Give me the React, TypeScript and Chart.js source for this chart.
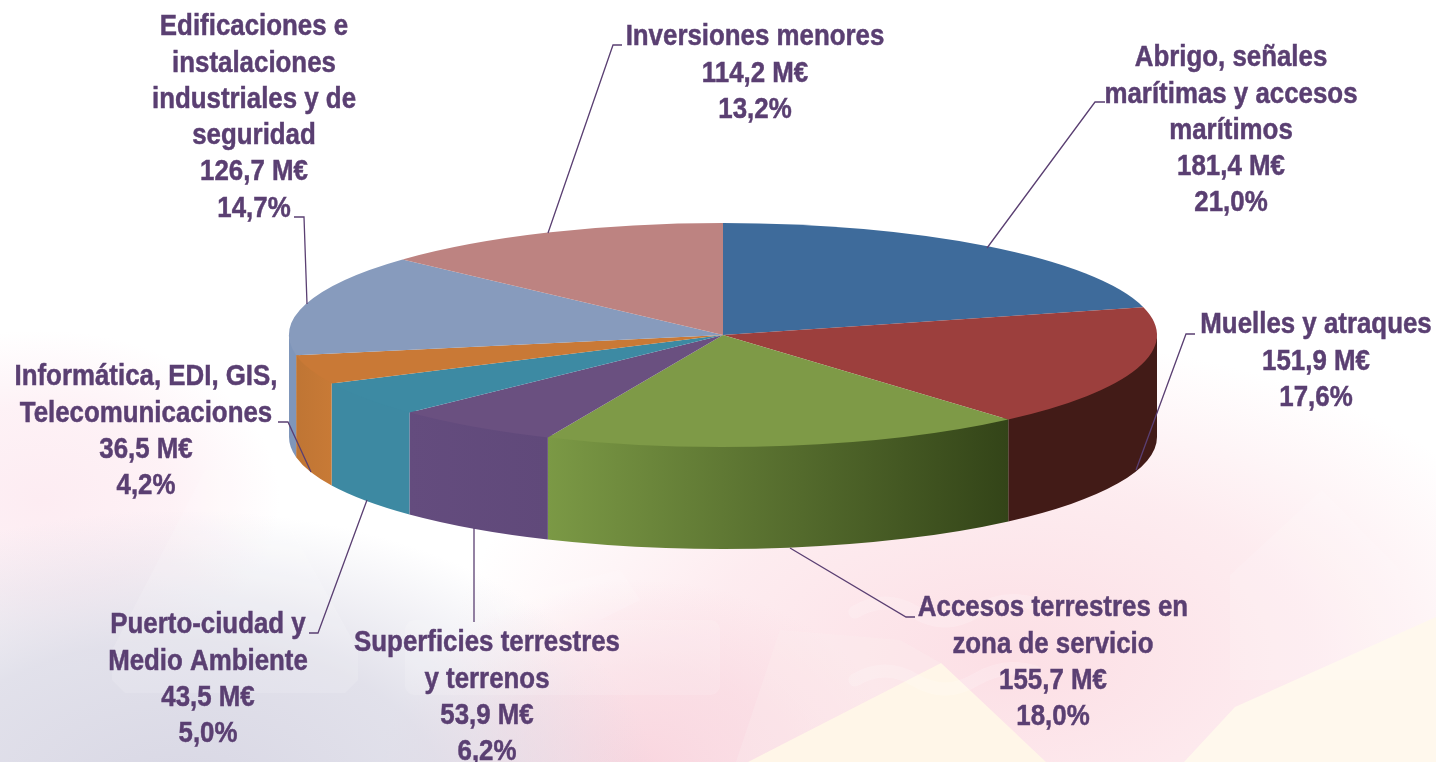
import React, { useEffect, useRef } from "react";
import { Chart, registerables } from "chart.js";

Chart.register(...registerables);

const categories = [
  ["Abrigo, señales", "marítimas y accesos", "marítimos"],
  ["Muelles y atraques"],
  ["Accesos terrestres en", "zona de servicio"],
  ["Superficies terrestres", "y terrenos"],
  ["Puerto-ciudad y", "Medio Ambiente"],
  ["Informática, EDI, GIS,", "Telecomunicaciones"],
  ["Edificaciones e", "instalaciones", "industriales y de", "seguridad"],
  ["Inversiones menores"],
];
const valuesMEuro = [181.4, 151.9, 155.7, 53.9, 43.5, 36.5, 126.7, 114.2];
const percentLabels = ["21,0%", "17,6%", "18,0%", "6,2%", "5,0%", "4,2%", "14,7%", "13,2%"];
const topColors = ["#3e6b9b", "#9c3f3d", "#7e9a47", "#6a5080", "#3d8aa3", "#c97936", "#879bbd", "#bd8381"];
const wallColors = [
  ["#30547a", "#30547a"],
  ["#421b17", "#421b17"],
  ["#7b9945", "#334418"],
  ["#644c7e", "#60497a"],
  ["#3d89a2", "#3d89a2"],
  ["#bf7534", "#c87a36"],
  ["#7f96ba", "#7f96ba"],
  ["#9c6c6a", "#9c6c6a"],
];

// Layout of the labels: centre x and centre y of the first line
const labelAnchors = [
  [1231, 58], [1316, 325], [1053, 608], [487, 643], [208, 625], [146, 377], [254, 27], [755, 37],
];
const leaderLines = [
  [[1105, 102], [1095, 102], [987, 248]],
  [[1195, 334], [1186, 334], [1136, 470]],
  [[915, 617], [906, 617], [790, 548]],
  [[474, 622], [474, 528]],
  [[309, 633], [318, 633], [367, 500]],
  [[278, 422], [288, 422], [311, 472]],
  [[294, 217], [304, 217], [307, 304]],
  [[622, 45], [613, 45], [548, 233]],
];

const WIDTH = 1436;
const HEIGHT = 762;
const RX = 434;
const RY = 112;
const DEPTH = 102;
const LINE_H = 36.3;
const INK = "#5a3f72";
const FONT = 'bold 30px "Liberation Sans", sans-serif';
const TEXT_SQUEEZE = 0.862;

const pie3d = {
  id: "pie3d",
  beforeDatasetsDraw(chart: any) {
    const ctx = chart.ctx;
    const meta = chart.getDatasetMeta(0);
    const first = meta.data[0];
    const cx = first.x;
    const cy = first.y;
    ctx.save();
    meta.data.forEach((arc: any, i: number) => {
      const norm = (a: number) => {
        let v = a % (2 * Math.PI);
        if (v < -Math.PI / 2) v += 2 * Math.PI;
        return v;
      };
      const s = norm(arc.startAngle);
      const e = s + (arc.endAngle - arc.startAngle);
      const a = Math.max(s, 0);
      const b = Math.min(e, Math.PI);
      if (b <= a) return;
      const x0 = cx + RX * Math.cos(a);
      const x1 = cx + RX * Math.cos(b);
      const g = ctx.createLinearGradient(Math.min(x0, x1), 0, Math.max(x0, x1), 0);
      g.addColorStop(0, wallColors[i][0]);
      g.addColorStop(1, wallColors[i][1]);
      ctx.fillStyle = g;
      ctx.beginPath();
      // starts a little above the rim so that no seam shows under the top face
      ctx.ellipse(cx, cy - 3, RX, RY, 0, a, b, false);
      ctx.ellipse(cx, cy + DEPTH, RX, RY, 0, b, a, true);
      ctx.closePath();
      ctx.fill();
    });
    ctx.restore();
    ctx.save();
    ctx.translate(cx, cy);
    ctx.scale(RX / RY, 1);
    ctx.translate(-cx, -cy);
  },
  afterDatasetsDraw(chart: any) {
    const ctx = chart.ctx;
    ctx.restore();
    ctx.save();
    ctx.strokeStyle = INK;
    ctx.lineWidth = 1.3;
    leaderLines.forEach((pts) => {
      ctx.beginPath();
      pts.forEach((p, i) => (i ? ctx.lineTo(p[0], p[1]) : ctx.moveTo(p[0], p[1])));
      ctx.stroke();
    });
    ctx.fillStyle = INK;
    ctx.font = FONT;
    ctx.textAlign = "center";
    ctx.textBaseline = "middle";
    ctx.lineWidth = 0.5;
    categories.forEach((cat, i) => {
      const lines = [
        ...cat,
        valuesMEuro[i].toFixed(1).replace(".", ",") + " M€",
        percentLabels[i],
      ];
      lines.forEach((t, j) => {
        ctx.save();
        ctx.translate(labelAnchors[i][0], labelAnchors[i][1] + j * LINE_H);
        ctx.scale(TEXT_SQUEEZE, 1);
        ctx.fillText(t, 0, 0);
        ctx.strokeText(t, 0, 0);
        ctx.restore();
      });
    });
    ctx.restore();
  },
};

function Backdrop() {
  const glow = (id: string, color: string, mid: number) => (
    <radialGradient id={id}>
      <stop offset="0" stopColor={color} />
      <stop offset="0.55" stopColor={color} stopOpacity={mid} />
      <stop offset="1" stopColor={color} stopOpacity="0" />
    </radialGradient>
  );
  return (
    <svg
      width={WIDTH}
      height={HEIGHT}
      style={{ position: "absolute", left: 0, top: 0 }}
      aria-hidden="true"
    >
      <defs>
        {glow("pinkR", "#fcdfe5", 0.6)}
        {glow("pinkM", "#f9d6df", 0.6)}
        {glow("lav", "#d8d7e4", 0.75)}
        {glow("pinkL", "#fdecf2", 0.7)}
      </defs>
      <rect width={WIDTH} height={HEIGHT} fill="#ffffff" />
      <ellipse cx="1010" cy="660" rx="560" ry="320" fill="url(#pinkR)" />
      <ellipse cx="40" cy="500" rx="240" ry="170" fill="url(#pinkL)" />
      <ellipse cx="640" cy="770" rx="260" ry="190" fill="url(#pinkM)" />
      <ellipse cx="180" cy="800" rx="480" ry="290" fill="url(#lav)" />
      <polygon points="780,630 900,640 941,663 748,762 736,762" fill="#fdf0ee" opacity="0.3" />
      <polygon points="941,663 1046,762 748,762" fill="#fff6e8" />
      <polygon points="1235,707 1436,617 1436,762 1184,762" fill="#fff8ed" />
      {/* faint pictograms of the backdrop */}
      <g fill="#ffffff" opacity="0.14">
        <polygon points="205,470 258,470 358,650 358,680 345,693 125,693 112,680 112,650" />
        <polygon points="1322,490 1230,575 1230,680 1400,680 1400,570" />
        <rect x="405" y="620" width="315" height="75" rx="10" />
        <polygon points="482,573 540,590 620,570 640,600 560,640 500,620" />
      </g>
      <g fill="none" stroke="#ffffff" strokeWidth="13" opacity="0.18" strokeLinecap="round">
        <path d="M855 612 q30 -18 60 0 t60 0 t60 -8" />
        <path d="M855 680 q30 -18 60 0 t60 0 t60 -8" />
      </g>
    </svg>
  );
}

export default function App() {
  const ref = useRef<HTMLCanvasElement>(null);
  useEffect(() => {
    const chart = new Chart(ref.current!, {
      type: "pie",
      data: {
        labels: categories.map((c) => c.join(" ")),
        datasets: [
          {
            data: valuesMEuro,
            backgroundColor: topColors,
            borderWidth: 0,
            radius: RY,
          } as any,
        ],
      },
      options: {
        responsive: false,
        animation: false,
        // Puts the pie's centre at (723, 335)
        layout: { padding: { left: 10, right: 0, top: 0, bottom: 92 } },
        plugins: { legend: { display: false }, tooltip: { enabled: false } },
      },
      plugins: [pie3d],
    });
    return () => chart.destroy();
  }, []);
  return (
    <div style={{ position: "fixed", left: 0, top: 0, width: WIDTH, height: HEIGHT, overflow: "hidden" }}>
      <Backdrop />
      <canvas
        ref={ref}
        width={WIDTH}
        height={HEIGHT}
        style={{ position: "absolute", left: 0, top: 0, display: "block" }}
      />
    </div>
  );
}
